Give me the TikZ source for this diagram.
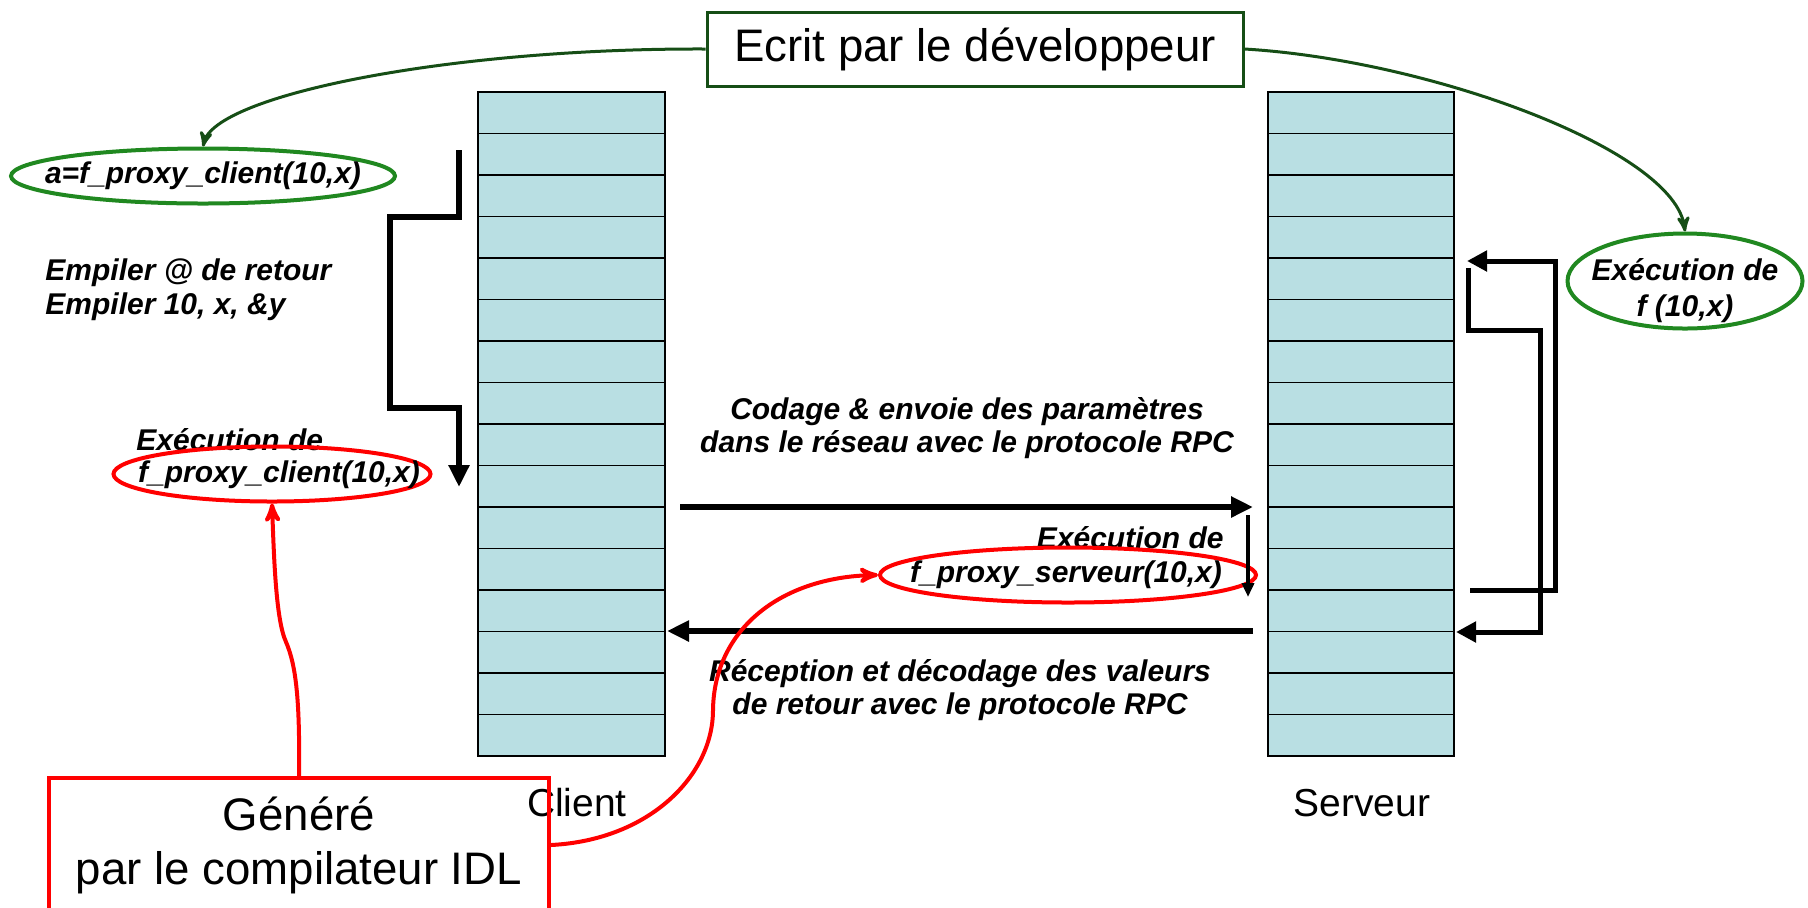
\documentclass[tikz,border=0pt]{standalone}
\usepackage{fontspec}
\setmainfont{Liberation Sans}
\usetikzlibrary{arrows,arrows.meta,shapes.geometric}

\definecolor{pile}{RGB}{185,223,227}
\definecolor{vertfonce}{RGB}{22,78,22}
\definecolor{vert}{RGB}{32,136,32}

\newcommand{\grand}{\fontsize{22.8}{27}\selectfont}
\newcommand{\moyen}{\fontsize{19.5}{23}\selectfont}
\newcommand{\petit}{\fontsize{15}{17}\selectfont\bfseries\itshape}

\begin{document}
\begin{tikzpicture}[x=0.5pt,y=-0.5pt,>=stealth']
  \tikzstyle{case}=[draw,fill=pile,line width=0.9pt,minimum width=93.25pt,
                    minimum height=20.75pt,inner sep=0pt]
  \tikzstyle{bulle}=[ellipse,line width=2pt,inner sep=0pt,minimum height=27.5pt]
  \tikzstyle{texte}=[font=\petit,inner sep=0pt]
  \tikzstyle{fleche}=[line width=3pt,-{Triangle[length=11pt,width=10pt]}]
  \tikzstyle{retour}=[line width=2.5pt,-{Triangle[length=10pt,width=10pt]}]

  \useasboundingbox (0,0) rectangle (1808,907);

  % les deux piles
  \foreach \i in {1,...,16} {
    \node[case] (cl\i) at (571.5,{92+41.5*(\i-0.5)}) {};
    \node[case] (sv\i) at (1361,{92+41.5*(\i-0.5)}) {};
  }
  \node[font=\moyen] (client)  at (577,803)  {Client};
  \node[font=\moyen] (serveur) at (1362,803) {Serveur};

  % textes et bulles
  \node[draw=vertfonce,line width=1.5pt,minimum width=268pt,minimum height=37pt,
        font=\grand] (dev) at (975,49) {Ecrit par le développeur};

  \node[bulle,draw=vert,minimum width=192pt] (appel) at (203,176) {};
  \node[texte] at (appel) {a=f\_proxy\_client(10,x)};

  \node[texte,anchor=west,align=left,font=\fontsize{15}{17}\selectfont\bfseries\itshape]
        (empiler) at (45,290) {Empiler @ de retour\\Empiler 10, x, \&y};

  \node[texte,anchor=west] (execc) at (136,440) {Exécution de};
  \node[bulle,draw=red,minimum width=158.5pt] (proxyc) at (272,474) {};
  \node[texte] at (279,475) {f\_proxy\_client(10,x)};

  \node[bulle,draw=vert,minimum width=117.5pt,minimum height=47.5pt] (execf) at (1685,281) {};
  \node[texte,align=center,font=\fontsize{15}{18}\selectfont\bfseries\itshape]
        at (1685,291) {Exécution de\\f (10,x)};

  \node[texte,align=center,font=\fontsize{15}{16.5}\selectfont\bfseries\itshape]
        (codage) at (967,428) {Codage \& envoie des paramètres\\dans le réseau avec le protocole RPC};
  \node[texte,align=center,font=\fontsize{15}{16.5}\selectfont\bfseries\itshape]
        (reception) at (960,690) {Réception et décodage des valeurs\\de retour avec le protocole RPC};

  \node[texte,anchor=east] (execs) at (1224,538) {Exécution de};
  \node[bulle,draw=red,minimum width=188pt] (proxys) at (1068,575) {};
  \node[texte] at (1066,575) {f\_proxy\_serveur(10,x)};

  \node[draw=red,line width=2pt,minimum width=250pt,minimum height=67pt,
        font=\grand,align=center] (genere) at (299,845) {Généré\\par le compilateur IDL};

  % bouts libres des fleches
  \coordinate (dc) at (459,150);
  \coordinate (fc) at (459,487);
  \coordinate (envoiA) at (680,507);
  \coordinate (envoiB) at (1253,507);
  \coordinate (retourA) at (1253,631);
  \coordinate (retourB) at (667,631);
  \coordinate (ds) at (1248,515);
  \coordinate (fs) at (1248,597);
  \coordinate (fA) at (1470,590);
  \coordinate (fB) at (1467,261);
  \coordinate (gA) at (1468,268);
  \coordinate (gB) at (1456,632);

  % fleches noires
  \draw[fleche] (dc) -- (459,217) -- (390,217) -- (390,408) -- (459,408) -- (fc);
  \draw[fleche] (envoiA) -- (envoiB);
  \draw[fleche] (retourA) -- (retourB);
  \draw[line width=2pt,-{Triangle[length=7pt,width=6pt]}] (ds) -- (fs);
  \draw[retour] (fA) -- (1555,590) -- (1555,261) -- (fB);
  \draw[retour] (gA) -- (1468,330) -- (1540,330) -- (1540,632) -- (gB);

  % fleches vertes
  \draw[->,vertfonce,line width=1.5pt] (dev.west) .. controls (450,48) and (215,95) .. (appel.north);
  \draw[->,vertfonce,line width=1.5pt] (dev.east) .. controls (1430,60) and (1675,150) .. (execf.north);

  % fleches rouges
  \draw[->,red,line width=2pt] (genere.north) .. controls (300,700) and (296,665) .. (286,642)
        .. controls (276,620) and (274,560) .. (proxyc.south);
  \draw[->,red,line width=2pt] (genere.east) .. controls (650,840) and (713,775) .. (713,710)
        .. controls (714,630) and (780,577) .. (proxys.west);
\end{tikzpicture}
\end{document}
